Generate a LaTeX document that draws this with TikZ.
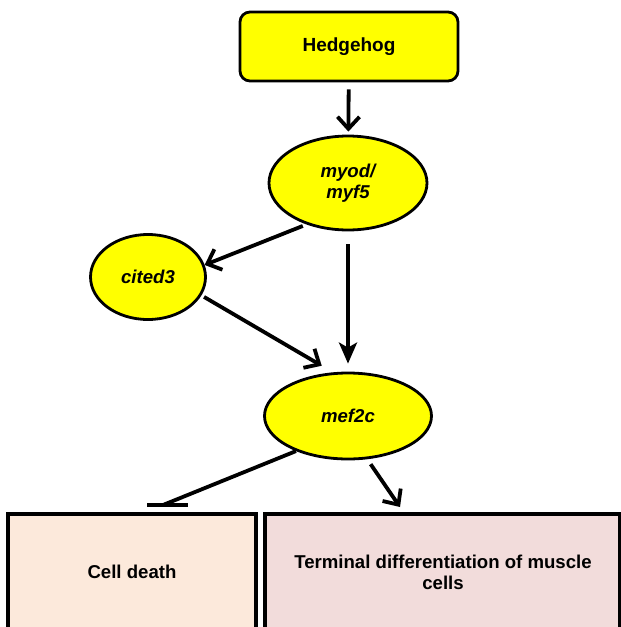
\documentclass[tikz,border=0pt]{standalone}
\usepackage{fontspec}
\setmainfont{Liberation Sans}
\usetikzlibrary{arrows.meta,shapes.geometric,calc}
\definecolor{ylw}{HTML}{FFFF00}
\definecolor{peach}{HTML}{FCE9DB}
\definecolor{rose}{HTML}{F2DCDB}
\begin{document}
\begin{tikzpicture}[x=1pt,y=-1pt,
  lbl/.style={font=\fontsize{18.6}{21}\selectfont\bfseries, align=center, inner sep=0pt},
  hhbox/.style={rectangle, rounded corners=10pt, draw, line width=2.8pt, fill=ylw,
    minimum width=218pt, minimum height=69pt, font=\fontsize{19}{21}\selectfont\bfseries},
  gene/.style={ellipse, draw, line width=2.8pt, fill=ylw, inner sep=0pt,
    font=\fontsize{18.6}{21}\selectfont\bfseries\itshape, align=center},
  outbox/.style={rectangle, draw, line width=3.2pt, inner sep=0pt, minimum height=130pt},
  conn/.style={line width=3.8pt},
  barb/.style={conn, -{Straight Barb[length=12pt,width=22pt]}},
  fillhead/.style={conn, -{Stealth[length=21pt,width=18pt,inset=5pt]}}]
\useasboundingbox (0,0) rectangle (621,627);
\clip (0,0) rectangle (621,627);
\node[hhbox] (hh) at (349,46.5) {Hedgehog};
\node[gene, minimum width=158pt, minimum height=94pt] (myod) at (348,183) {myod/\\myf5};
\node[gene, minimum width=115pt, minimum height=85pt] (cited) at (148,277) {cited3};
\node[gene, minimum width=167pt, minimum height=86pt] (mef) at (348,416) {mef2c};
\node[outbox, fill=peach, minimum width=248pt] (cd) at (132,579) {};
\node[lbl] (cdt) at (132,572) {Cell death};
\node[outbox, fill=rose, minimum width=355pt] (td) at (442.5,579) {};
\node[lbl] (tdt) at (443,572) {Terminal differentiation of muscle\\cells};
\draw[barb, shorten <=7pt, shorten >=3pt] (hh) -- (myod);
\draw[barb, shorten <=4pt] (myod.225) -- (cited.12);
\draw[barb, shorten <=3pt, shorten >=13pt] (cited.-19) -- (mef.109);
\draw[fillhead, shorten <=13pt, shorten >=8pt] (myod.south) -- (mef.north);
\coordinate (inh) at (163,505);
\draw[conn] (mef.214) -- (inh);
\draw[line width=4.5pt] ($(inh)+(-16,0)$) -- ($(inh)+(25,0)$);
\coordinate (tdin) at (400,507);
\draw[barb, shorten <=6pt] (mef.-66) -- (tdin);
\end{tikzpicture}
\end{document}
